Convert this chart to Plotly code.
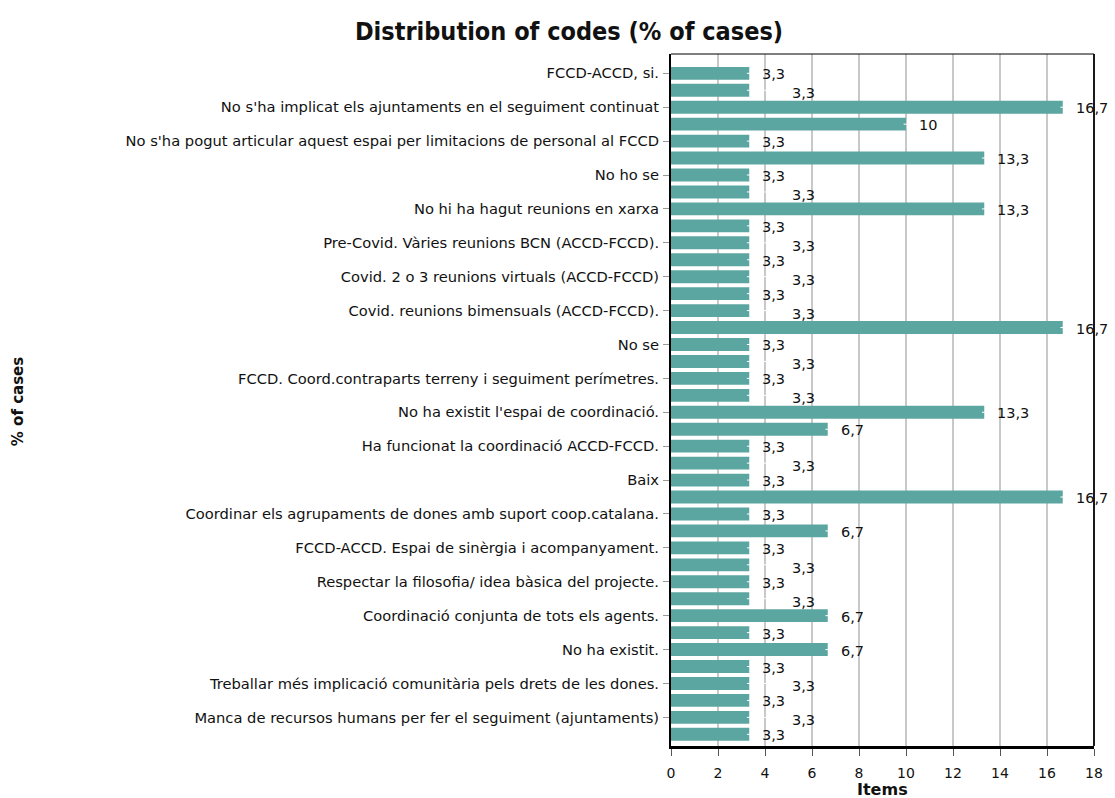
import plotly.graph_objects as go

# ---- data ----
tick_labels = [
    "FCCD-ACCD, si.",
    "No s'ha implicat els ajuntaments en el seguiment continuat",
    "No s'ha pogut articular aquest espai per limitacions de personal al FCCD",
    "No ho se",
    "No hi ha hagut reunions en xarxa",
    "Pre-Covid. Vàries reunions BCN (ACCD-FCCD).",
    "Covid. 2 o 3 reunions virtuals (ACCD-FCCD)",
    "Covid. reunions bimensuals (ACCD-FCCD).",
    "No se",
    "FCCD. Coord.contraparts terreny i seguiment perímetres.",
    "No ha existit l'espai de coordinació.",
    "Ha funcionat la coordinació ACCD-FCCD.",
    "Baix",
    "Coordinar els agrupaments de dones amb suport coop.catalana.",
    "FCCD-ACCD. Espai de sinèrgia i acompanyament.",
    "Respectar la filosofia/ idea bàsica del projecte.",
    "Coordinació conjunta de tots els agents.",
    "No ha existit.",
    "Treballar més implicació comunitària pels drets de les dones.",
    "Manca de recursos humans per fer el seguiment (ajuntaments)",
]

values = [
    3.33, 3.33, 16.67, 10.0, 3.33, 13.33, 3.33, 3.33, 13.33, 3.33,
    3.33, 3.33, 3.33, 3.33, 3.33, 16.67, 3.33, 3.33, 3.33, 3.33,
    13.33, 6.67, 3.33, 3.33, 3.33, 16.67, 3.33, 6.67, 3.33, 3.33,
    3.33, 3.33, 6.67, 3.33, 6.67, 3.33, 3.33, 3.33, 3.33, 3.33,
]

x_ticks = [0, 2, 4, 6, 8, 10, 12, 14, 16, 18]

# ---- figure ----
n = len(values)
pos = list(range(n))
labeled_pos = pos[::2]

FONT = "DejaVu Sans"
BAR = "#5ca6a1"

W, H = 1115, 798
L, R, T, B = 671, 17, 54, 52
pw, ph = W - L - R, H - T - B

fig = go.Figure()
fig.add_trace(go.Bar(
    x=values, y=pos, orientation="h",
    marker=dict(color=BAR, line=dict(width=0)),
    width=0.76, hoverinfo="skip",
))

def fmt(v):
    s = f"{v:.1f}"
    if s.endswith(".0"):
        s = s[:-2]
    return s.replace(".", ",")

# value labels, staggered when they would collide with the previous one
px_per_unit = pw / 18.0
annotations = []
lead_x, lead_y = [], []
prev_close = False
prev_val = None
for i, v in enumerate(values):
    far = prev_close and prev_val is not None and abs(v - prev_val) < 0.5
    shift = 42 if far else 12
    annotations.append(dict(
        x=v, y=i, xref="x", yref="y", text=fmt(v), showarrow=False,
        xanchor="left", yanchor="middle", xshift=shift - 1,
        yshift=-3 if far else -1,
        font=dict(family=FONT, size=14.5, color="#111"),
    ))
    lead_x += [v - 0.1, v + (shift - 3) / px_per_unit, None]
    lead_y += [i, i, None]
    prev_close = not far
    prev_val = v

fig.add_trace(go.Scatter(
    x=lead_x, y=lead_y, mode="lines",
    line=dict(color="white", width=1), hoverinfo="skip", showlegend=False,
))

# axis titles
annotations.append(dict(
    text="<b>% of cases</b>", xref="paper", yref="paper",
    x=(12 - L) / pw, y=1 - (402 - T) / ph, textangle=-90,
    showarrow=False, xanchor="center", yanchor="middle",
    font=dict(family=FONT, size=15, color="#111"),
))
annotations.append(dict(
    text="<b>Items</b>", xref="paper", yref="paper",
    x=0.5, y=-(789 - (H - B)) / ph, showarrow=False,
    xanchor="center", yanchor="middle",
    font=dict(family=FONT, size=16, color="#111"),
))

fig.update_layout(
    width=W, height=H,
    margin=dict(l=L, r=R, t=T, b=B),
    paper_bgcolor="white", plot_bgcolor="white",
    showlegend=False,
    title=dict(
        text="<b>Distribution of codes (% of cases)</b>",
        x=569 / W, xref="container", xanchor="center",
        y=1 - 31 / H, yref="container", yanchor="middle",
        font=dict(family="DejaVu Sans Condensed, DejaVu Sans", size=25, color="#111"),
    ),
    annotations=annotations,
    bargap=0.24,
)

fig.update_xaxes(
    range=[0, 18], tickvals=x_ticks, ticktext=[str(t) for t in x_ticks],
    showgrid=True, gridcolor="#c8c8c8", gridwidth=1.5,
    zeroline=False,
    showline=True, linecolor="black", linewidth=3,
    ticks="outside", ticklen=7, tickcolor="#555", tickwidth=1,
    tickfont=dict(family=FONT, size=14, color="#111"),
    ticklabelstandoff=5,
)

fig.update_yaxes(
    range=[n - 1 + 0.69, -1.14],
    tickvals=labeled_pos, ticktext=tick_labels,
    showgrid=False, zeroline=False,
    showline=True, linecolor="black", linewidth=2,
    ticks="outside", ticklen=6, tickcolor="#999", tickwidth=1,
    tickfont=dict(family=FONT, size=14.7, color="#111"),
    ticklabelstandoff=1,
)

# frame: thin top and right borders
fig.add_shape(type="line", xref="paper", yref="paper", x0=0, x1=1, y0=1, y1=1,
              line=dict(color="black", width=1.2))
fig.add_shape(type="line", xref="paper", yref="paper", x0=1, x1=1, y0=0, y1=1,
              line=dict(color="black", width=1.8))

fig.write_html("out.html", config={"displayModeBar": False},
               post_script="document.body.style.margin='0';")
